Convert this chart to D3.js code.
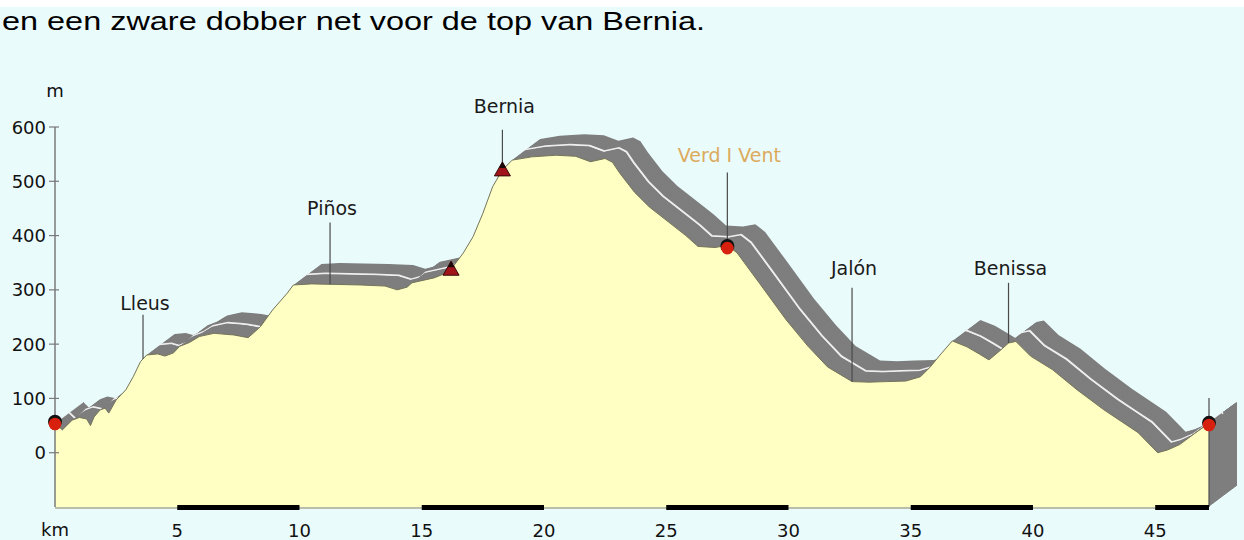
<!DOCTYPE html>
<html><head><meta charset="utf-8">
<script src="https://cdn.jsdelivr.net/npm/d3@7"></script>
<style>html,body{margin:0;padding:0;background:#eafbfc;overflow:hidden}</style>
</head><body><svg id="c" width="1244" height="540"></svg>
<script>
// ---------- data ----------
const titleText = "en een zware dobber net voor de top van Bernia.";
const profileKm = [0,0.3,0.7,1.0,1.3,1.45,1.6,1.85,2.05,2.2,2.5,2.9,3.2,3.5,3.75,4.2,4.5,4.85,5.1,5.5,5.9,6.5,7.0,7.3,7.9,8.4,8.9,9.5,9.75,10.5,11.5,12.5,13.5,14.0,14.4,14.6,15.5,16.0,16.2,16.7,17.1,17.5,17.9,18.3,18.7,19.5,20.5,21.3,21.9,22.5,22.8,23.1,23.7,24.3,25.15,25.8,26.3,27.0,27.5,27.9,28.8,29.9,30.8,31.6,32.6,33.3,34.0,34.8,35.4,35.8,36.2,36.7,37.3,37.8,38.2,38.6,39.0,39.3,39.9,40.8,41.8,42.9,43.6,44.3,45.1,45.5,46.0,46.6,47.0,47.2];
const profileM  = [55,42,60,65,62,50,66,79,82,73,97,116,140,168,180,182,178,184,196,203,214,220,218,217,212,232,263,294,309,311,310,309,307,300,305,313,322,331,338,368,398,441,490,521,539,545,548,546,536,542,535,515,480,453,423,400,380,378,382,368,313,245,196,158,131,130,131,132,140,158,180,206,195,182,171,186,202,205,178,153,116,79,58,37,0,5,15,35,48,55];
const yTicks = [0,100,200,300,400,500,600];
const xTicks = [5,10,15,20,25,30,35,40,45];
const barStarts = [5,15,25,35,45];
const barEnds = [10,20,30,40,47.2];
const placeNames = ["Lleus","Piños","Bernia","Verd I Vent","Jalón","Benissa",""];
const placeKm = [3.6,11.25,18.3,27.5,32.6,39.0,47.2];
const placeLabelM = [263,438,626,536,328,328,null];
const placeLineTopM = [254,424,595,516,304,313,101];
const markerKm = [0,16.2,18.3,27.5,47.2];
const markerM = [57,338,521,381,55];
const markerShape = ["dot","tri","tri","dot","dot"];

// ---------- drawing ----------
const svg = d3.select("#c");
const W = 1244, H = 540;
svg.append("rect").attr("width",W).attr("height",H).attr("fill","#eafbfc");
svg.append("rect").attr("width",W).attr("height",7).attr("fill","#ffffff");
svg.append("text").attr("x",2).attr("y",30)
  .attr("font-family","Liberation Sans, Arial, sans-serif").attr("font-size",26)
  .attr("textLength",703).attr("lengthAdjust","spacingAndGlyphs")
  .attr("fill","#000").text(titleText);

const x = d3.scaleLinear().domain([0,47.2]).range([55,1209]);
const y = d3.scaleLinear().domain([-100,600]).range([507,127]);
const data = profileKm.map((k,i)=>({km:k, m:profileM[i]}));
const area = d3.area().x(d=>x(d.km)).y0(y(-100)).y1(d=>y(d.m));
const line = d3.line().x(d=>x(d.km)).y(d=>y(d.m));
const elevAt = k => { const i = d3.bisector(d=>d.km).left(data,k); if(i<=0) return data[0].m; if(i>=data.length) return data[data.length-1].m; const a=data[i-1], b=data[i]; return a.m + (b.m-a.m)*(k-a.km)/(b.km-a.km); };

const DX = 28, DY = -21, STEPS = 28;
const g = svg.append("g");
for (let i = STEPS; i >= 1; i--) {
  const t = i / STEPS;
  g.append("path").attr("d", area(data)).attr("fill","#7e7e7e")
    .attr("transform",`translate(${t*DX},${t*DY})`);
  if (i === STEPS/2) {
    g.append("path").attr("d", line(data)).attr("fill","none")
      .attr("stroke","#eeeeee").attr("stroke-width",2)
      .attr("transform",`translate(${t*DX},${t*DY})`);
  }
}
g.append("path").attr("d", area(data)).attr("fill","#ffffc4");
g.append("path").attr("d", line(data)).attr("fill","none").attr("stroke","#74745a").attr("stroke-width",1);
g.append("line").attr("x1",x(47.2)).attr("x2",x(47.2)).attr("y1",y(elevAt(47.2))).attr("y2",y(-100))
  .attr("stroke","#505050").attr("stroke-width",1.2);

// baseline and bars
svg.append("line").attr("x1",x(0)).attr("x2",x(47.2)).attr("y1",508).attr("y2",508)
  .attr("stroke","#a9a994").attr("stroke-width",1.5);
svg.selectAll(".bar").data(barStarts).enter().append("rect")
  .attr("x",(d)=>x(d)).attr("width",(d,i)=>x(barEnds[i])-x(d)).attr("y",505).attr("height",5).attr("fill","#000");

// y axis
const axisFont = "DejaVu Sans, Verdana, sans-serif";
svg.append("line").attr("x1",x(0)).attr("x2",x(0)).attr("y1",y(600)).attr("y2",y(-100))
  .attr("stroke","#7a7a7a").attr("stroke-width",1.5);
yTicks.forEach(v=>{
  svg.append("line").attr("x1",x(0)-6).attr("x2",x(0)+4).attr("y1",y(v)).attr("y2",y(v)).attr("stroke","#7a7a7a").attr("stroke-width",1.2);
  svg.append("text").attr("x",46).attr("y",y(v)+6.5).attr("text-anchor","end")
    .attr("font-family",axisFont).attr("font-size",18).attr("fill","#111").text(v);
});
svg.append("text").attr("x",x(0)).attr("y",97).attr("text-anchor","middle")
  .attr("font-family",axisFont).attr("font-size",18).attr("fill","#111").text("m");
svg.append("text").attr("x",x(0)).attr("y",536).attr("text-anchor","middle")
  .attr("font-family",axisFont).attr("font-size",18).attr("fill","#111").text("km");
xTicks.forEach(v=>{
  svg.append("text").attr("x",x(v)).attr("y",537).attr("text-anchor","middle")
    .attr("font-family",axisFont).attr("font-size",18).attr("fill","#111").text(v);
});

// place labels and leader lines
placeNames.forEach((n,i)=>{
  const px = x(placeKm[i]);
  svg.append("line").attr("x1",px).attr("x2",px).attr("y1",y(placeLineTopM[i])).attr("y2",y(elevAt(placeKm[i])))
    .attr("stroke","#4a4a4a").attr("stroke-width",1.2);
  if (n) {
    svg.append("text").attr("x",px+2).attr("y",y(placeLabelM[i])).attr("text-anchor","middle")
      .attr("font-family",axisFont).attr("font-size",19)
      .attr("fill", n==="Verd I Vent" ? "#dcaa5c" : "#1a1a1a").text(n);
  }
});

// markers
markerKm.forEach((k,i)=>{
  const cx = x(k), cy = y(markerM[i]);
  if (markerShape[i]==="dot") {
    svg.append("circle").attr("cx",cx).attr("cy",cy).attr("r",7).attr("fill","#111");
    svg.append("circle").attr("cx",cx).attr("cy",cy+2.2).attr("r",6.3).attr("fill","#d8200e");
  } else {
    svg.append("path").attr("d",`M${cx},${cy-8} L${cx+8},${cy+6} L${cx-8},${cy+6} Z`)
      .attr("fill","#a0141a").attr("stroke","#3a0808").attr("stroke-width",1);
    svg.append("path").attr("d",`M${cx},${cy-8} L${cx+3.5},${cy-2} L${cx-3.5},${cy-2} Z`).attr("fill","#1a0a0a");
  }
});
</script></body></html>
